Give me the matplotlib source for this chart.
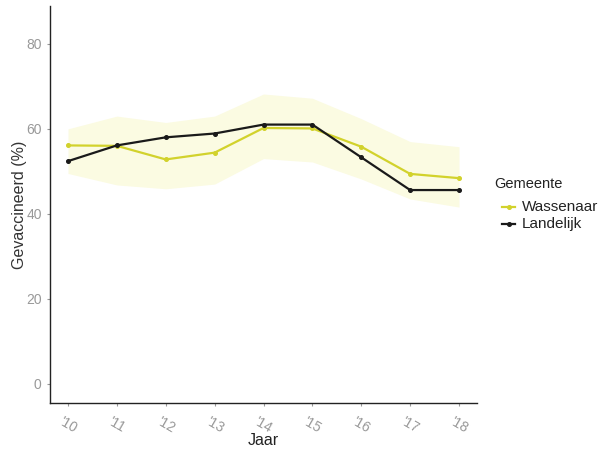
import matplotlib
matplotlib.use("Agg")
import matplotlib.pyplot as plt
from matplotlib.lines import Line2D

plt.rcParams['font.family'] = ['Liberation Sans', 'DejaVu Sans']

years = [2010, 2011, 2012, 2013, 2014, 2015, 2016, 2017, 2018]
tick_labels = ["'10", "'11", "'12", "'13", "'14", "'15", "'16", "'17", "'18"]
wassenaar = [56.1, 56.0, 52.8, 54.4, 60.2, 60.1, 55.8, 49.4, 48.4]
landelijk = [52.4, 56.1, 58.0, 58.9, 61.0, 61.0, 53.3, 45.6, 45.6]
ribbon_upper = [60.0, 63.0, 61.5, 63.0, 68.2, 67.2, 62.4, 57.0, 55.8]
ribbon_lower = [49.5, 46.8, 45.9, 47.0, 53.0, 52.2, 48.2, 43.5, 41.6]
series_names = ['Wassenaar', 'Landelijk']

yellow = '#d2d22c'
black = '#1a1a1a'

W, H = 604, 451
fig = plt.figure(figsize=(W/100, H/100), dpi=100)
ax = fig.add_axes([50/W, 1-403/H, (477-50)/W, (403-6)/H])

ax.fill_between(years, ribbon_lower, ribbon_upper, color='#fbfbe2', linewidth=0)
ax.plot(years, wassenaar, color=yellow, lw=1.6, marker='o', ms=2.6)
ax.plot(years, landelijk, color=black, lw=1.6, marker='o', ms=2.6)

ax.set_xlim(2009.632, 2018.368)
ax.set_ylim(-4.5, 88.9)
ax.set_yticks([0, 20, 40, 60, 80])
ax.set_xticks(years)
ax.set_xticklabels(tick_labels, rotation=-30, ha='center', va='top')
ax.tick_params(axis='both', colors='#999999', labelcolor='#999999', labelsize=10, length=2.5, width=0.8)
ax.tick_params(axis='x', pad=6)

for s in ['top', 'right']:
    ax.spines[s].set_visible(False)
for s in ['left', 'bottom']:
    ax.spines[s].set_color('#222222')
    ax.spines[s].set_linewidth(1.0)

ax.set_ylabel('Gevaccineerd (%)', fontsize=11.5, color='#333333', labelpad=-1)
ax.set_xlabel('Jaar', fontsize=11.5, color='#222222', labelpad=-2)

# legend drawn manually in figure pixel coordinates
fig.text(494/W, 1-184/H, 'Gemeente', fontsize=10.5, color='#222222', ha='left', va='center')
for i, (name, col) in enumerate(zip(series_names, [yellow, black])):
    yc = 1 - (207 + 16.5*i)/H
    fig.add_artist(Line2D([502/W, 515/W], [yc, yc], color=col, lw=1.6, transform=fig.transFigure))
    fig.add_artist(Line2D([508.5/W], [yc], color=col, marker='o', ms=2.6, transform=fig.transFigure))
    fig.text(522/W, yc, name, fontsize=11, color='#222222', ha='left', va='center')

fig.savefig('out.png', dpi=100)
